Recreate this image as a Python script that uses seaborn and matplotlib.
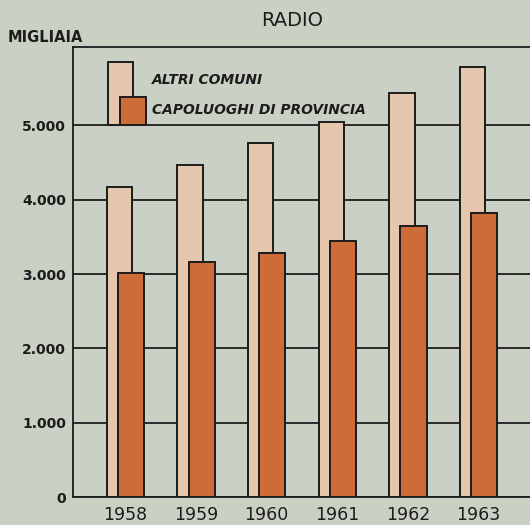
import matplotlib
matplotlib.use('Agg')
import matplotlib.pyplot as plt
import seaborn as sns
import pandas as pd
from matplotlib.patches import Rectangle
from matplotlib.ticker import FuncFormatter

# ---- data (migliaia) ----
anni = ['1958', '1959', '1960', '1961', '1962', '1963']
altri_comuni = [4170, 4460, 4760, 5040, 5430, 5790]
capoluoghi = [3020, 3160, 3280, 3450, 3640, 3820]
yticks = [0, 1000, 2000, 3000, 4000, 5000]
serie_labels = ['ALTRI COMUNI', 'CAPOLUOGHI DI PROVINCIA']

bg = '#cad0c3'
light = '#e6c6ad'
dark = '#cd6b39'
ink = '#1c1c1c'

sns.set_theme(style='white')
plt.rcParams['font.family'] = ['DejaVu Sans']

df = pd.DataFrame({
    'anno': anni * 2,
    'serie': [serie_labels[0]] * len(anni) + [serie_labels[1]] * len(anni),
    'valore': altri_comuni + capoluoghi,
})

fig = plt.figure(figsize=(5.3, 5.25), dpi=100, facecolor=bg)
ax = fig.add_axes([0.138, 0.053, 0.87, 0.857])
ax.set_facecolor(bg)

shift = 0.082
sns.barplot(data=df[df.serie == serie_labels[0]], x='anno', y='valore',
            color=light, saturation=1, width=0.355, errorbar=None,
            edgecolor=ink, linewidth=1.4, ax=ax, zorder=2)
n = len(ax.patches)
for p in ax.patches:
    p.set_x(p.get_x() - shift)
sns.barplot(data=df[df.serie == serie_labels[1]], x='anno', y='valore',
            color=dark, saturation=1, width=0.37, errorbar=None,
            edgecolor=ink, linewidth=1.4, ax=ax, zorder=3)
for p in ax.patches[n:]:
    p.set_x(p.get_x() + shift)

ax.set_xlim(-0.736, 5.79)
ax.set_ylim(0, 6050)
ax.set_yticks(yticks)
ax.yaxis.set_major_formatter(FuncFormatter(lambda v, _: f"{int(v):,}".replace(',', '.')))
ax.set_axisbelow(True)
ax.grid(axis='y', color=ink, linewidth=1.3)
ax.grid(axis='x', visible=False)
ax.set_xlabel('')
ax.set_ylabel('')

for s in ['left', 'top', 'bottom']:
    ax.spines[s].set_visible(True)
    ax.spines[s].set_color(ink)
    ax.spines[s].set_linewidth(1.3)
ax.spines['right'].set_visible(False)

ax.tick_params(axis='y', length=0, pad=5, labelsize=10, labelcolor=ink)
ax.tick_params(axis='x', length=0, pad=6, labelsize=12.5, labelcolor=ink)
for t in ax.get_yticklabels():
    t.set_fontweight('bold')

# legend drawn as mini bars
ax.add_patch(Rectangle((0.076, 0.8265), 0.054, 0.14, transform=ax.transAxes,
                       facecolor=light, edgecolor=ink, linewidth=1.4, zorder=4))
ax.add_patch(Rectangle((0.102, 0.8265), 0.056, 0.062, transform=ax.transAxes,
                       facecolor=dark, edgecolor=ink, linewidth=1.4, zorder=5))
ax.text(0.171, 0.927, serie_labels[0], transform=ax.transAxes, ha='left', va='center',
        fontsize=10, fontstyle='italic', fontweight='bold', color=ink)
ax.text(0.171, 0.86, serie_labels[1], transform=ax.transAxes, ha='left', va='center',
        fontsize=10, fontstyle='italic', fontweight='bold', color=ink)

fig.text(292 / 530, 1 - 20 / 525, 'RADIO', ha='center', va='center', fontsize=14, color=ink)
fig.text(8 / 530, 1 - 37 / 525, 'MIGLIAIA', ha='left', va='center', fontsize=10.5,
         fontweight='bold', color=ink)

fig.savefig('out.png', dpi=100, facecolor=bg)
